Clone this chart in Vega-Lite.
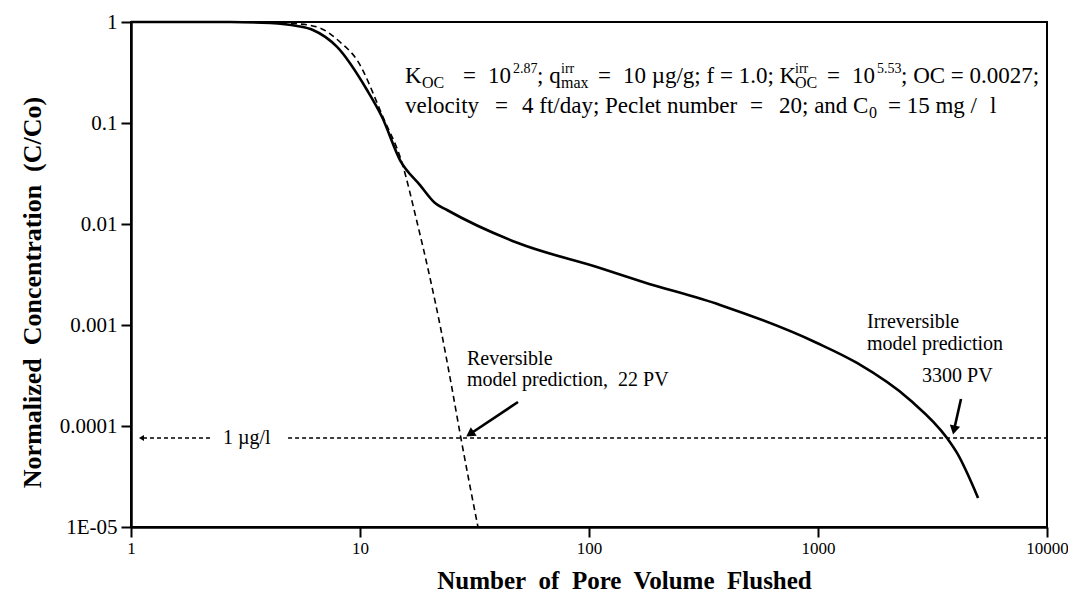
{
  "$schema": "https://vega.github.io/schema/vega-lite/v6.json",
  "width": 916,
  "height": 505,
  "autosize": {"type": "none"},
  "padding": {"left": 131, "top": 22, "right": 21, "bottom": 76},
  "background": "white",
  "config": {
    "view": {"stroke": "black", "strokeWidth": 2},
    "font": "Liberation Serif",
    "text": {"font": "Liberation Serif", "color": "black"}
  },
  "datasets": {
    "curves": [
      {"pv": 1, "c": 1, "model": "Irreversible"},
      {"pv": 2.71, "c": 1, "model": "Irreversible"},
      {"pv": 4.05, "c": 0.977, "model": "Irreversible"},
      {"pv": 5.31, "c": 0.913, "model": "Irreversible"},
      {"pv": 6.23, "c": 0.833, "model": "Irreversible"},
      {"pv": 7.94, "c": 0.566, "model": "Irreversible"},
      {"pv": 10.73, "c": 0.212, "model": "Irreversible"},
      {"pv": 12.48, "c": 0.1146, "model": "Irreversible"},
      {"pv": 14.95, "c": 0.043, "model": "Irreversible"},
      {"pv": 18.28, "c": 0.0243, "model": "Irreversible"},
      {"pv": 21.26, "c": 0.01614, "model": "Irreversible"},
      {"pv": 23.99, "c": 0.01376, "model": "Irreversible"},
      {"pv": 48.96, "c": 0.00648, "model": "Irreversible"},
      {"pv": 111.7, "c": 0.00367, "model": "Irreversible"},
      {"pv": 172.2, "c": 0.00267, "model": "Irreversible"},
      {"pv": 373.5, "c": 0.00158, "model": "Irreversible"},
      {"pv": 990, "c": 0.000664, "model": "Irreversible"},
      {"pv": 1480, "c": 0.000421, "model": "Irreversible"},
      {"pv": 2522, "c": 0.000181, "model": "Irreversible"},
      {"pv": 3659, "c": 0.000076, "model": "Irreversible"},
      {"pv": 4046, "c": 0.0000541, "model": "Irreversible"},
      {"pv": 5000, "c": 0.0000194, "model": "Irreversible"},
      {"pv": 1, "c": 1, "model": "Reversible"},
      {"pv": 3.66, "c": 1, "model": "Reversible"},
      {"pv": 5.47, "c": 0.955, "model": "Reversible"},
      {"pv": 6.69, "c": 0.872, "model": "Reversible"},
      {"pv": 8.18, "c": 0.634, "model": "Reversible"},
      {"pv": 9.7, "c": 0.421, "model": "Reversible"},
      {"pv": 12.6, "c": 0.1146, "model": "Reversible"},
      {"pv": 15.26, "c": 0.0402, "model": "Reversible"},
      {"pv": 17.74, "c": 0.01047, "model": "Reversible"},
      {"pv": 20.22, "c": 0.00292, "model": "Reversible"},
      {"pv": 22.58, "c": 0.000892, "model": "Reversible"},
      {"pv": 24.97, "c": 0.0002665, "model": "Reversible"},
      {"pv": 27.33, "c": 0.0000852, "model": "Reversible"},
      {"pv": 29.92, "c": 0.00002853, "model": "Reversible"},
      {"pv": 32.75, "c": 0.00001, "model": "Reversible"}
    ],
    "limit": [
      {"x1": 4.851, "x2": 10000, "c": 0.000076}
    ],
    "leftarrow": [
      {"x1": 2.213, "x2": 1.111, "c": 0.000076}
    ],
    "arrows": [
      {"name": "rev", "tx": 48.97, "ty": 0.0001728, "hx": 30.22, "hy": 0.0000833},
      {"name": "irr", "tx": 4211.7, "ty": 0.0001851, "hx": 3925.6, "hy": 0.0000913}
    ],
    "labels": [
      {"x": 29.33, "y": 0.0004606, "t": "Reversible"},
      {"x": 29.33, "y": 0.0002853, "t": "model prediction,\u00a0 22 PV"},
      {"x": 1636.8, "y": 0.001071, "t": "Irreversible"},
      {"x": 1636.8, "y": 0.0006483, "t": "model prediction"},
      {"x": 2845.5, "y": 0.0003126, "t": "3300 PV"},
      {"x": 2.5218, "y": 0.000076, "t": "1 µg/l"}
    ],
    "notes": [
      {"x": 15.72, "y": 0.24889, "t": "K", "kind": "n"},
      {"x": 18.66, "y": 0.24889, "t": "OC", "kind": "sub"},
      {"x": 28.17, "y": 0.24889, "t": "=", "kind": "n"},
      {"x": 36.22, "y": 0.24889, "t": "10", "kind": "n"},
      {"x": 46.57, "y": 0.24889, "t": "2.87", "kind": "sup"},
      {"x": 59.28, "y": 0.24889, "t": "; q", "kind": "n"},
      {"x": 75.46, "y": 0.24889, "t": "irr", "kind": "sup"},
      {"x": 75.46, "y": 0.24889, "t": "max", "kind": "sub"},
      {"x": 109.47, "y": 0.24889, "t": "=", "kind": "n"},
      {"x": 140.73, "y": 0.24889, "t": "10 µg/g; f = 1.0; K", "kind": "n"},
      {"x": 793.5, "y": 0.24889, "t": "irr", "kind": "sup"},
      {"x": 793.5, "y": 0.24889, "t": "OC", "kind": "sub"},
      {"x": 1094.7, "y": 0.24889, "t": "=", "kind": "n"},
      {"x": 1407.3, "y": 0.24889, "t": "10", "kind": "n"},
      {"x": 1810.1, "y": 0.24889, "t": "5.53", "kind": "sup"},
      {"x": 2303.6, "y": 0.24889, "t": "; OC = 0.0027;", "kind": "n"},
      {"x": 15.72, "y": 0.12566, "t": "velocity", "kind": "n"},
      {"x": 38.86, "y": 0.12566, "t": "=", "kind": "n"},
      {"x": 50.98, "y": 0.12566, "t": "4 ft/day; Peclet number", "kind": "n"},
      {"x": 504.7, "y": 0.12566, "t": "=", "kind": "n"},
      {"x": 675.6, "y": 0.12566, "t": "20; and", "kind": "n"},
      {"x": 1421.6, "y": 0.12566, "t": "C", "kind": "n"},
      {"x": 1670.0, "y": 0.12566, "t": "0", "kind": "sub"},
      {"x": 2021.5, "y": 0.12566, "t": "= 15 mg /", "kind": "n"},
      {"x": 5637.5, "y": 0.12566, "t": "l", "kind": "n"}
    ]
  },
  "layer": [
    {
      "data": {"name": "curves"},
      "transform": [{"filter": "datum.model === 'Irreversible'"}],
      "mark": {"type": "line", "color": "black", "strokeWidth": 2.6, "interpolate": "monotone"},
      "encoding": {
        "x": {
          "field": "pv", "type": "quantitative", "title": "Number\u00a0 of\u00a0 Pore\u00a0 Volume\u00a0 Flushed",
          "scale": {"type": "log", "domain": [1, 10000], "nice": false},
          "axis": {
            "values": [1, 10, 100, 1000, 10000], "format": "d",
            "grid": false, "tickSize": 10, "tickWidth": 2, "tickColor": "black",
            "domainWidth": 2.5, "domainColor": "black",
            "labelFont": "Liberation Serif", "labelFontSize": 17, "labelColor": "black",
            "labelPadding": 3, "labelFlush": false, "labelOverlap": false,
            "title": "Number\u00a0 of\u00a0 Pore\u00a0 Volume\u00a0 Flushed",
            "titleFont": "Liberation Serif", "titleFontSize": 25, "titleFontWeight": "bold",
            "titleColor": "black", "titleX": 493, "titleY": 61, "titleBaseline": "alphabetic", "titleAlign": "center"
          }
        },
        "y": {
          "field": "c", "type": "quantitative", "title": "Normalized\u00a0 Concentration\u00a0 (C/Co)",
          "scale": {"type": "log", "domain": [0.00001, 1], "nice": false},
          "axis": {
            "values": [0.00001, 0.0001, 0.001, 0.01, 0.1, 1],
            "labelExpr": "datum.value < 0.00002 ? '1E-05' : datum.value < 0.0002 ? '0.0001' : datum.value < 0.002 ? '0.001' : datum.value < 0.02 ? '0.01' : datum.value < 0.2 ? '0.1' : '1'",
            "grid": false, "tickSize": 10, "tickWidth": 2, "tickColor": "black",
            "domainWidth": 2.5, "domainColor": "black",
            "labelFont": "Liberation Serif", "labelFontSize": 21, "labelColor": "black",
            "labelPadding": 4, "labelFlush": false, "labelOverlap": false,
            "title": "Normalized\u00a0 Concentration\u00a0 (C/Co)",
            "titleFont": "Liberation Serif", "titleFontSize": 26, "titleFontWeight": "bold",
            "titleColor": "black", "titleX": -99, "titleY": 270, "titleBaseline": "middle", "titleAlign": "center", "titleAngle": -90
          }
        }
      }
    },
    {
      "data": {"name": "curves"},
      "transform": [{"filter": "datum.model === 'Reversible'"}],
      "mark": {"type": "line", "color": "black", "strokeWidth": 1.6, "strokeDash": [6, 4], "interpolate": "monotone"},
      "encoding": {
        "x": {"field": "pv", "type": "quantitative", "title": "Number\u00a0 of\u00a0 Pore\u00a0 Volume\u00a0 Flushed"},
        "y": {"field": "c", "type": "quantitative", "title": "Normalized\u00a0 Concentration\u00a0 (C/Co)"}
      }
    },
    {
      "data": {"name": "limit"},
      "mark": {"type": "rule", "color": "black", "strokeWidth": 1.6, "strokeDash": [4, 3]},
      "encoding": {
        "x": {"field": "x1", "type": "quantitative", "title": "Number\u00a0 of\u00a0 Pore\u00a0 Volume\u00a0 Flushed"},
        "x2": {"field": "x2"},
        "y": {"field": "c", "type": "quantitative", "title": "Normalized\u00a0 Concentration\u00a0 (C/Co)"}
      }
    },
    {
      "data": {"name": "leftarrow"},
      "mark": {"type": "rule", "color": "black", "strokeWidth": 1.6, "strokeDash": [4, 3]},
      "encoding": {
        "x": {"field": "x1", "type": "quantitative", "title": "Number\u00a0 of\u00a0 Pore\u00a0 Volume\u00a0 Flushed"},
        "x2": {"field": "x2"},
        "y": {"field": "c", "type": "quantitative", "title": "Normalized\u00a0 Concentration\u00a0 (C/Co)"}
      }
    },
    {
      "data": {"name": "leftarrow"},
      "mark": {"type": "point", "shape": "triangle-left", "filled": true, "color": "black", "size": 35, "opacity": 1},
      "encoding": {
        "x": {"field": "x2", "type": "quantitative", "title": "Number\u00a0 of\u00a0 Pore\u00a0 Volume\u00a0 Flushed"},
        "y": {"field": "c", "type": "quantitative", "title": "Normalized\u00a0 Concentration\u00a0 (C/Co)"}
      }
    },
    {
      "data": {"name": "arrows"},
      "mark": {"type": "rule", "color": "black", "strokeWidth": 2.6},
      "encoding": {
        "x": {"field": "tx", "type": "quantitative", "title": "Number\u00a0 of\u00a0 Pore\u00a0 Volume\u00a0 Flushed"},
        "x2": {"field": "hx"},
        "y": {"field": "ty", "type": "quantitative", "title": "Normalized\u00a0 Concentration\u00a0 (C/Co)"},
        "y2": {"field": "hy"}
      }
    },
    {
      "data": {"name": "arrows"},
      "transform": [{"filter": "datum.name === 'rev'"}],
      "mark": {"type": "point", "shape": "triangle-up", "filled": true, "color": "black", "size": 110, "angle": 236, "opacity": 1},
      "encoding": {
        "x": {"field": "hx", "type": "quantitative", "title": "Number\u00a0 of\u00a0 Pore\u00a0 Volume\u00a0 Flushed"},
        "y": {"field": "hy", "type": "quantitative", "title": "Normalized\u00a0 Concentration\u00a0 (C/Co)"}
      }
    },
    {
      "data": {"name": "arrows"},
      "transform": [{"filter": "datum.name === 'irr'"}],
      "mark": {"type": "point", "shape": "triangle-up", "filled": true, "color": "black", "size": 110, "angle": 192.5, "opacity": 1},
      "encoding": {
        "x": {"field": "hx", "type": "quantitative", "title": "Number\u00a0 of\u00a0 Pore\u00a0 Volume\u00a0 Flushed"},
        "y": {"field": "hy", "type": "quantitative", "title": "Normalized\u00a0 Concentration\u00a0 (C/Co)"}
      }
    },
    {
      "data": {"name": "labels"},
      "mark": {"type": "text", "align": "left", "baseline": "middle", "fontSize": 20, "font": "Liberation Serif", "color": "black"},
      "encoding": {
        "x": {"field": "x", "type": "quantitative", "title": "Number\u00a0 of\u00a0 Pore\u00a0 Volume\u00a0 Flushed"},
        "y": {"field": "y", "type": "quantitative", "title": "Normalized\u00a0 Concentration\u00a0 (C/Co)"},
        "text": {"field": "t"}
      }
    },
    {
      "data": {"name": "notes"},
      "transform": [{"filter": "datum.kind === 'n'"}],
      "mark": {"type": "text", "align": "left", "baseline": "alphabetic", "fontSize": 23, "font": "Liberation Serif", "color": "black"},
      "encoding": {
        "x": {"field": "x", "type": "quantitative", "title": "Number\u00a0 of\u00a0 Pore\u00a0 Volume\u00a0 Flushed"},
        "y": {"field": "y", "type": "quantitative", "title": "Normalized\u00a0 Concentration\u00a0 (C/Co)"},
        "text": {"field": "t"}
      }
    },
    {
      "data": {"name": "notes"},
      "transform": [{"filter": "datum.kind === 'sub'"}],
      "mark": {"type": "text", "align": "left", "baseline": "alphabetic", "fontSize": 16, "dy": 5, "font": "Liberation Serif", "color": "black"},
      "encoding": {
        "x": {"field": "x", "type": "quantitative", "title": "Number\u00a0 of\u00a0 Pore\u00a0 Volume\u00a0 Flushed"},
        "y": {"field": "y", "type": "quantitative", "title": "Normalized\u00a0 Concentration\u00a0 (C/Co)"},
        "text": {"field": "t"}
      }
    },
    {
      "data": {"name": "notes"},
      "transform": [{"filter": "datum.kind === 'sup'"}],
      "mark": {"type": "text", "align": "left", "baseline": "alphabetic", "fontSize": 14, "dy": -10, "font": "Liberation Serif", "color": "black"},
      "encoding": {
        "x": {"field": "x", "type": "quantitative", "title": "Number\u00a0 of\u00a0 Pore\u00a0 Volume\u00a0 Flushed"},
        "y": {"field": "y", "type": "quantitative", "title": "Normalized\u00a0 Concentration\u00a0 (C/Co)"},
        "text": {"field": "t"}
      }
    }
  ]
}
